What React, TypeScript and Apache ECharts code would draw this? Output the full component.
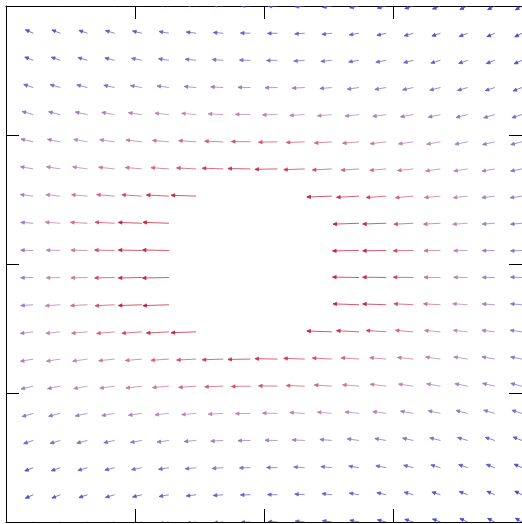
import { useEffect, useRef } from "react";
import * as echarts from "echarts";

// grid coordinates (left -> right, top -> bottom)
const X_VALUES = [-2, -1.789, -1.579, -1.368, -1.158, -0.947, -0.737, -0.526, -0.316, -0.105, 0.105, 0.316, 0.526, 0.737, 0.947, 1.158, 1.368, 1.579, 1.789, 2];
const Y_VALUES = [2, 1.789, 1.579, 1.368, 1.158, 0.947, 0.737, 0.526, 0.316, 0.105, -0.105, -0.316, -0.526, -0.737, -0.947, -1.158, -1.368, -1.579, -1.789, -2];

// vector magnitude per cell (null = inside the obstacle)
const N = null;
const SPEED: (number | null)[][] = [
  [7.5, 8, 8.5, 8.5, 9, 9, 9.5, 9.5, 9.5, 9.5, 9.5, 9.5, 9.5, 9.5, 9, 9, 8.5, 8.5, 8, 7.5],
  [8, 8.5, 9, 9, 9.5, 9.5, 10, 10, 10, 10, 10, 10, 10, 10, 9.5, 9.5, 9, 9, 8.5, 8],
  [8.5, 9, 9.5, 10, 10, 10.5, 10.5, 11, 11, 11, 11, 11, 11, 10.5, 10.5, 10, 10, 9.5, 9, 8.5],
  [9.5, 10, 10.5, 11, 11, 11.5, 12, 12, 12.5, 12.5, 12.5, 12.5, 12, 12, 11.5, 11, 11, 10.5, 10, 9.5],
  [10.5, 11.5, 12, 12.5, 13, 13.5, 14, 14.5, 15, 15, 15, 15, 14.5, 14, 13.5, 13, 12.5, 12, 11.5, 10.5],
  [11.5, 12.5, 13, 14, 15, 16, 16.5, 17.5, 18.5, 19, 19, 18.5, 17.5, 16.5, 16, 15, 14, 13, 12.5, 11.5],
  [11.5, 13, 14, 15, 16, 16.5, 18, 19.5, 21, 22.5, 22.5, 21, 19.5, 18, 16.5, 16, 15, 14, 13, 11.5],
  [12, 13, 14.5, 16, 18, 20, 22.5, 25, N, N, N, N, 25, 22.5, 20, 18, 16, 14.5, 13, 12],
  [11.5, 12.5, 15, 17, 19.5, 23.5, 26, N, N, N, N, N, N, 26, 23.5, 19.5, 17, 15, 12.5, 11.5],
  [11.5, 12.5, 14, 16.5, 20, 23.5, 26.5, N, N, N, N, N, N, 26.5, 23.5, 20, 16.5, 14, 12.5, 11.5],
  [11.5, 12.5, 14, 16.5, 20, 23.5, 26.5, N, N, N, N, N, N, 26.5, 23.5, 20, 16.5, 14, 12.5, 11.5],
  [11.5, 12.5, 15, 17, 19.5, 23.5, 26, N, N, N, N, N, N, 26, 23.5, 19.5, 17, 15, 12.5, 11.5],
  [12, 13, 14.5, 16, 18, 20, 22.5, 25, N, N, N, N, 25, 22.5, 20, 18, 16, 14.5, 13, 12],
  [11.5, 13, 14, 15, 16, 16.5, 18, 19.5, 21, 22.5, 22.5, 21, 19.5, 18, 16.5, 16, 15, 14, 13, 11.5],
  [11.5, 12.5, 13, 14, 15, 16, 16.5, 17.5, 18.5, 19, 19, 18.5, 17.5, 16.5, 16, 15, 14, 13, 12.5, 11.5],
  [10.5, 11.5, 12, 12.5, 13, 13.5, 14, 14.5, 15, 15, 15, 15, 14.5, 14, 13.5, 13, 12.5, 12, 11.5, 10.5],
  [9.5, 10, 10.5, 11, 11, 11.5, 12, 12, 12.5, 12.5, 12.5, 12.5, 12, 12, 11.5, 11, 11, 10.5, 10, 9.5],
  [8.5, 9, 9.5, 10, 10, 10.5, 10.5, 11, 11, 11, 11, 11, 11, 10.5, 10.5, 10, 10, 9.5, 9, 8.5],
  [8, 8.5, 9, 9, 9.5, 9.5, 10, 10, 10, 10, 10, 10, 10, 10, 9.5, 9.5, 9, 9, 8.5, 8],
  [7.5, 8, 8.5, 8.5, 9, 9, 9.5, 9.5, 9.5, 9.5, 9.5, 9.5, 9.5, 9.5, 9, 9, 8.5, 8.5, 8, 7.5],
];

// tilt of each arrow in degrees (arrows point left; positive = head up)
const ANGLE: number[][] = [
  [30, 27, 24, 21, 17, 14, 11, 8, 5, 2, -2, -5, -8, -11, -14, -17, -21, -24, -27, -30],
  [27, 24, 21, 18, 16, 13, 10, 7, 4, 1, -1, -4, -7, -10, -13, -16, -18, -21, -24, -27],
  [24, 21, 19, 16, 14, 11, 9, 6, 4, 1, -1, -4, -6, -9, -11, -14, -16, -19, -21, -24],
  [21, 18, 16, 14, 12, 10, 8, 5, 3, 1, -1, -3, -5, -8, -10, -12, -14, -16, -18, -21],
  [17, 16, 14, 12, 10, 8, 6, 5, 3, 1, -1, -3, -5, -6, -8, -10, -12, -14, -16, -17],
  [14, 13, 11, 10, 8, 7, 5, 4, 2, 1, -1, -2, -4, -5, -7, -8, -10, -11, -13, -14],
  [11, 10, 9, 8, 6, 5, 4, 3, 2, 1, -1, -2, -3, -4, -5, -6, -8, -9, -10, -11],
  [8, 7, 6, 5, 5, 4, 3, 2, 1, 0, 0, -1, -2, -3, -4, -5, -5, -6, -7, -8],
  [5, 4, 4, 3, 3, 2, 2, 1, 1, 0, 0, -1, -1, -2, -2, -3, -3, -4, -4, -5],
  [2, 1, 1, 1, 1, 1, 1, 0, 0, 0, 0, 0, 0, -1, -1, -1, -1, -1, -1, -2],
  [-2, -1, -1, -1, -1, -1, -1, 0, 0, 0, 0, 0, 0, 1, 1, 1, 1, 1, 1, 2],
  [-5, -4, -4, -3, -3, -2, -2, -1, -1, 0, 0, 1, 1, 2, 2, 3, 3, 4, 4, 5],
  [-8, -7, -6, -5, -5, -4, -3, -2, -1, 0, 0, 1, 2, 3, 4, 5, 5, 6, 7, 8],
  [-11, -10, -9, -8, -6, -5, -4, -3, -2, -1, 1, 2, 3, 4, 5, 6, 8, 9, 10, 11],
  [-14, -13, -11, -10, -8, -7, -5, -4, -2, -1, 1, 2, 4, 5, 7, 8, 10, 11, 13, 14],
  [-17, -16, -14, -12, -10, -8, -6, -5, -3, -1, 1, 3, 5, 6, 8, 10, 12, 14, 16, 17],
  [-21, -18, -16, -14, -12, -10, -8, -5, -3, -1, 1, 3, 5, 8, 10, 12, 14, 16, 18, 21],
  [-24, -21, -19, -16, -14, -11, -9, -6, -4, -1, 1, 4, 6, 9, 11, 14, 16, 19, 21, 24],
  [-27, -24, -21, -18, -16, -13, -10, -7, -4, -1, 1, 4, 7, 10, 13, 16, 18, 21, 24, 27],
  [-30, -27, -24, -21, -17, -14, -11, -8, -5, -2, 2, 5, 8, 11, 14, 17, 21, 24, 27, 30],
];

const AXIS_MIN = -2;
const AXIS_MAX = 2;
const AXIS_INTERVAL = 1;
const ARROW_SCALE = 4 / 516; // data units per magnitude unit

function buildData() {
  const out: number[][] = [];
  for (let j = 0; j < Y_VALUES.length; j++) {
    for (let i = 0; i < X_VALUES.length; i++) {
      const s = SPEED[j][i];
      if (s == null) continue;
      const a = (ANGLE[j][i] * Math.PI) / 180;
      out.push([X_VALUES[i], Y_VALUES[j], -s * Math.cos(a) * ARROW_SCALE, s * Math.sin(a) * ARROW_SCALE, s]);
    }
  }
  return out;
}

export default function App() {
  const ref = useRef<HTMLDivElement>(null);
  useEffect(() => {
    if (!ref.current) return;
    const chart = echarts.init(ref.current, null, { renderer: "svg" });
    const axisCommon = {
      type: "value",
      min: AXIS_MIN,
      max: AXIS_MAX,
      interval: AXIS_INTERVAL,
      axisLine: { show: true, onZero: false, lineStyle: { color: "#000", width: 1 } },
      axisTick: { show: true, inside: true, length: 13, lineStyle: { color: "#000", width: 1 } },
      axisLabel: { show: false },
      splitLine: { show: false },
    };
    chart.setOption({
      animation: false,
      grid: { left: 6, top: 6, width: 516, height: 516 },
      xAxis: [
        { ...axisCommon, position: "bottom" },
        { ...axisCommon, position: "top" },
      ],
      yAxis: [
        { ...axisCommon, position: "left" },
        { ...axisCommon, position: "right" },
      ],
      visualMap: {
        show: false,
        type: "continuous",
        dimension: 4,
        seriesIndex: 0,
        min: 8,
        max: 24,
        inRange: { color: ["#3a3ac8", "#7c6cc4", "#b884b4", "#d0607a", "#cc3350", "#c01832"] },
      },
      series: [
        {
          type: "custom",
          xAxisIndex: 0,
          yAxisIndex: 0,
          clip: true,
          data: buildData(),
          renderItem: (_params: any, api: any) => {
            const x = api.value(0);
            const y = api.value(1);
            const u = api.value(2);
            const v = api.value(3);
            const p0 = api.coord([x, y]);
            const p1 = api.coord([x + u, y + v]);
            const dx = p1[0] - p0[0];
            const dy = p1[1] - p0[1];
            const len = Math.hypot(dx, dy) || 1;
            const ux = dx / len;
            const uy = dy / len;
            const hl = 3.6;
            const hw = 1.7;
            const b1 = [p1[0] - ux * hl - uy * hw, p1[1] - uy * hl + ux * hw];
            const b2 = [p1[0] - ux * hl + uy * hw, p1[1] - uy * hl - ux * hw];
            const color = api.visual("color");
            return {
              type: "group",
              children: [
                { type: "line", shape: { x1: p0[0], y1: p0[1], x2: p1[0], y2: p1[1] }, style: { stroke: color, lineWidth: 0.9, opacity: 0.8 } },
                { type: "polygon", shape: { points: [b1, p1, b2] }, style: { stroke: color, fill: color, lineWidth: 0.8, opacity: 0.85 } },
              ],
            };
          },
        },
      ],
    });
    return () => chart.dispose();
  }, []);
  return <div ref={ref} style={{ position: "fixed", left: 0, top: 0, width: 522, height: 524 }} />;
}
